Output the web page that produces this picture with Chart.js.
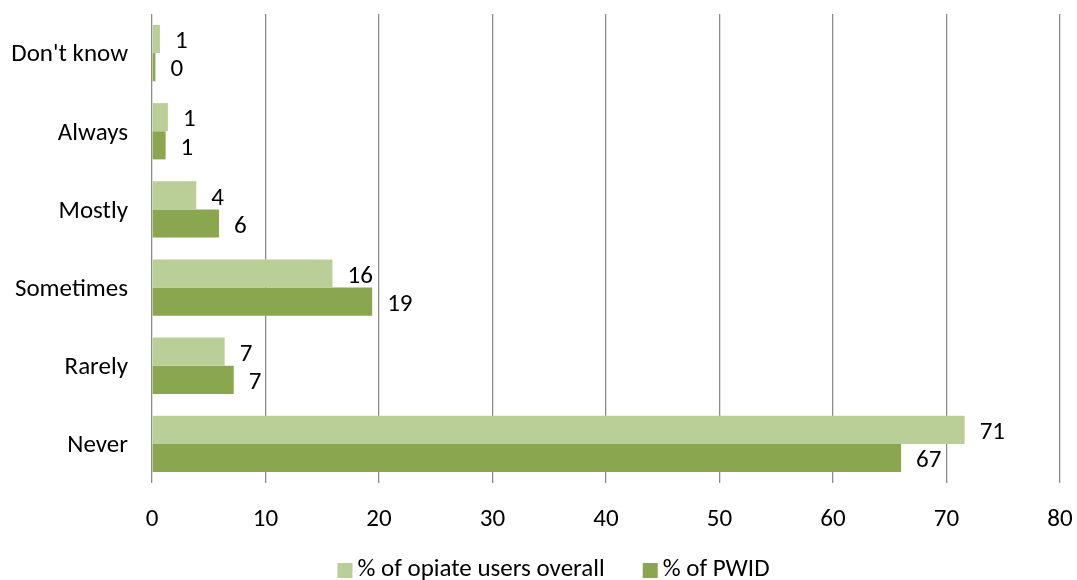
<!DOCTYPE html>
<html>
<head>
<meta charset="utf-8">
<script src="https://cdn.jsdelivr.net/npm/chart.js@4/dist/chart.umd.min.js"></script>
<style>
  html, body { margin: 0; padding: 0; background: #fff; }
  #wrap { width: 1077px; height: 580px; }
</style>
</head>
<body>
<div id="wrap"><canvas id="use-chart"></canvas></div>
<script>
var categories = ["Don't know", 'Always', 'Mostly', 'Sometimes', 'Rarely', 'Never'];
var overall = [0.7, 1.4, 3.9, 15.9, 6.4, 71.6];
var pwid = [0.3, 1.2, 5.9, 19.4, 7.2, 66.0];
// labels as printed next to the bars
var overallText = ['1', '1', '4', '16', '7', '71'];
var pwidText = ['0', '1', '6', '19', '7', '67'];
var xTicks = [0, 10, 20, 30, 40, 50, 60, 70, 80];

var font = 'Carlito, Lato';
var fontSize = 25;

// numbers at the end of each bar
var barLabels = {
  id: 'barLabels',
  afterDatasetsDraw: function(chart) {
    var ctx = chart.ctx;
    var texts = [overallText, pwidText];
    ctx.save();
    ctx.font = fontSize + 'px ' + font;
    ctx.fillStyle = '#000';
    ctx.textBaseline = 'middle';
    chart.data.datasets.forEach(function(ds, i) {
      chart.getDatasetMeta(i).data.forEach(function(bar, j) {
        ctx.fillText(texts[i][j], bar.x + 15, bar.y + 3);
      });
    });
    ctx.restore();
  }
};

// legend drawn by hand so the box/text spacing matches
var bottomLegend = {
  id: 'bottomLegend',
  afterDraw: function(chart) {
    var ctx = chart.ctx;
    var ds = chart.data.datasets;
    ctx.save();
    ctx.font = fontSize + 'px ' + font;
    ctx.textBaseline = 'middle';
    var widths = ds.map(function(d) { return 15 + 5 + ctx.measureText(d.label).width; });
    var total = widths.reduce(function(a, b) { return a + b; }, 0) + 38 * (ds.length - 1);
    var x = chart.width / 2 + 15 - total / 2;
    var y = 570;
    ds.forEach(function(d, i) {
      ctx.fillStyle = d.backgroundColor;
      ctx.fillRect(x, y - 7, 15, 15);
      ctx.fillStyle = '#000';
      ctx.fillText(d.label, x + 20, y);
      x += widths[i] + 38;
    });
    ctx.restore();
  }
};

var chart = new Chart(document.getElementById('use-chart'), {
  type: 'bar',
  data: {
    labels: categories,
    datasets: [{
      label: '% of opiate users overall',
      data: overall,
      backgroundColor: '#B9CF97'
    }, {
      label: '% of PWID',
      data: pwid,
      backgroundColor: '#8AA64E'
    }]
  },
  options: {
    indexAxis: 'y',
    responsive: true,
    maintainAspectRatio: false,
    animation: false,
    layout: { padding: { top: 14, right: 17, left: 0, bottom: 0 } },
    datasets: {
      bar: { categoryPercentage: 0.72, barPercentage: 1.0 }
    },
    scales: {
      x: {
        min: 0,
        max: 80,
        afterBuildTicks: function(axis) {
          axis.ticks = xTicks.map(function(v) { return { value: v }; });
        },
        afterFit: function(axis) {
          axis.height = 97;
          axis.paddingLeft = 0;
          axis.paddingRight = 0;
        },
        grid: { color: '#8C8C8C', lineWidth: 1.3, drawTicks: false },
        border: { display: false },
        ticks: { color: '#000', font: { family: font, size: fontSize }, padding: 22 }
      },
      y: {
        grid: { display: false },
        border: { display: false },
        afterFit: function(axis) {
          axis.width = 152;
          axis.paddingTop = 0;
          axis.paddingBottom = 0;
        },
        ticks: { color: '#000', font: { family: font, size: fontSize }, padding: 16, labelOffset: 2 }
      }
    },
    plugins: {
      legend: { display: false },
      tooltip: { enabled: false }
    }
  },
  plugins: [barLabels, bottomLegend]
});
</script>
</body>
</html>
